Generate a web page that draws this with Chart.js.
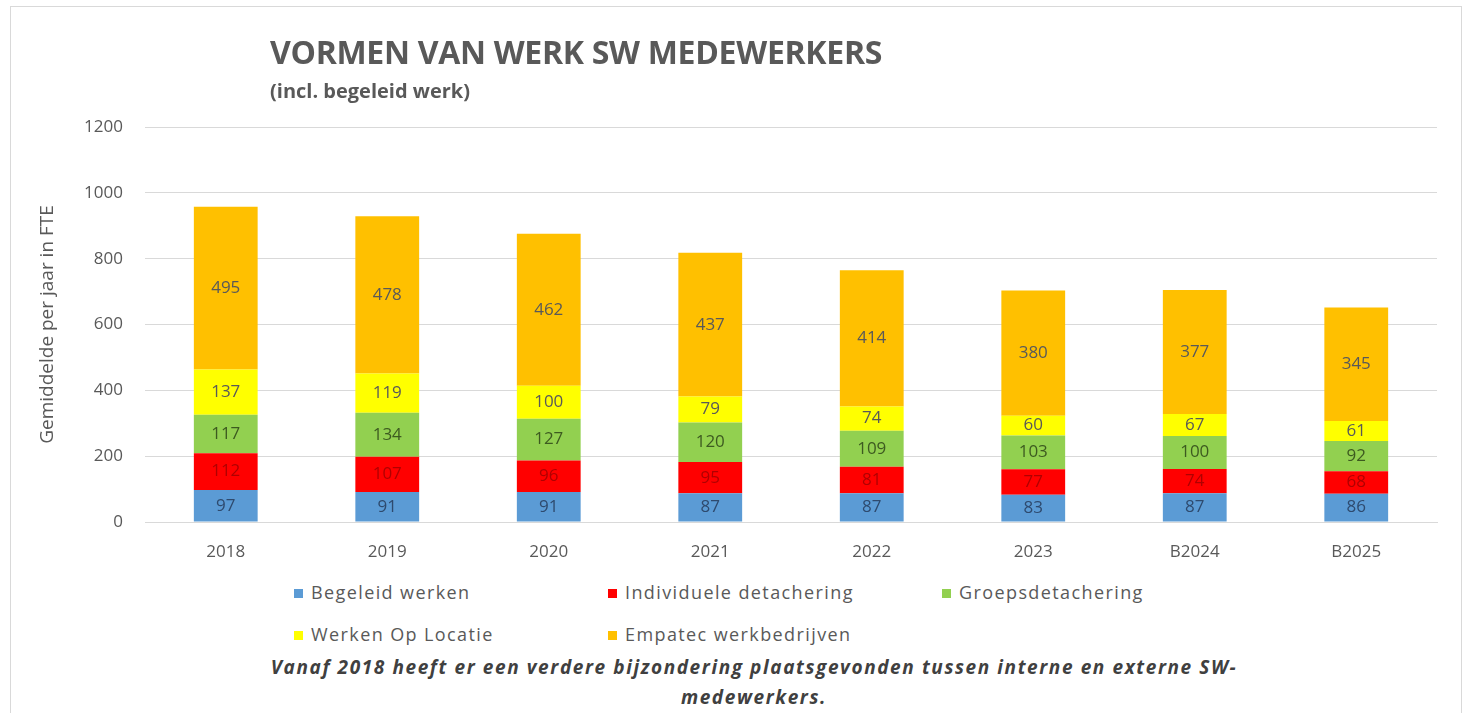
<!DOCTYPE html>
<html>
<head>
<meta charset="utf-8">
<script src="https://cdn.jsdelivr.net/npm/chart.js@4/dist/chart.umd.min.js"></script>
<style>
  body { margin: 0; background: #fff; font-family: "Open Sans", sans-serif; }
  #page { position: relative; width: 1473px; height: 713px; overflow: hidden; }
  #frame { position: absolute; left: 10px; top: 6px; width: 1450px; height: 712px; border: 1px solid #d9d9d9; }
  #chartBox { position: absolute; left: 0; top: 0; width: 1473px; height: 580px; }
  #title { position: absolute; left: 270px; top: 36px; font-size: 32px; line-height: 1; font-weight: bold; color: #595959; letter-spacing: -0.3px; }
  #subtitle { position: absolute; left: 270px; top: 81px; font-size: 20px; line-height: 1; font-weight: bold; color: #595959; }
  .leg { position: absolute; font-size: 18px; letter-spacing: 1.4px; color: #595959; white-space: nowrap; }
  .leg span { display: inline-block; width: 9px; height: 9px; margin-right: 8px; vertical-align: 1px; }
  #note { position: absolute; left: 204px; top: 652px; width: 1100px; text-align: center; font-size: 19px; letter-spacing: 1.6px; font-weight: bold; font-style: italic; color: #404040; line-height: 30px; }
</style>
</head>
<body>
<div id="page">
  <div id="frame"></div>
  <div id="chartBox"><canvas id="myChart"></canvas></div>
  <div id="title">VORMEN VAN WERK SW MEDEWERKERS</div>
  <div id="subtitle">(incl. begeleid werk)</div>
  <div id="legend"></div>
  <div id="note">Vanaf 2018 heeft er een verdere bijzondering plaatsgevonden tussen interne en externe SW-<br>medewerkers.</div>
</div>
<script>
const ctx = document.getElementById('myChart');

// data
var years = ['2018', '2019', '2020', '2021', '2022', '2023', 'B2024', 'B2025'];
var begeleid = [97, 91, 91, 87, 87, 83, 87, 86];
var individueel = [112, 107, 96, 95, 81, 77, 74, 68];
var groeps = [117, 134, 127, 120, 109, 103, 100, 92];
var werkenOpLocatie = [137, 119, 100, 79, 74, 60, 67, 61];
var empatec = [495, 478, 462, 437, 414, 380, 377, 345];
var yTicks = [0, 200, 400, 600, 800, 1000, 1200];

var seriesNames = ['Begeleid werken', 'Individuele detachering', 'Groepsdetachering', 'Werken Op Locatie', 'Empatec werkbedrijven'];
var seriesData = [begeleid, individueel, groeps, werkenOpLocatie, empatec];
var seriesColors = ['#5b9bd5', '#ff0000', '#92d050', '#ffff00', '#ffc000'];
var labelColors = ['#2e4a6e', '#b00000', '#3d5a20', '#595959', '#595959'];

// legend slots (two rows, three columns)
var legendPos = [[294, 580], [608, 580], [942, 580], [294, 622], [608, 622]];

var datasets = [];
for (var i = 0; i < seriesNames.length; i++) {
  datasets.push({
    label: seriesNames[i],
    data: seriesData[i],
    backgroundColor: seriesColors[i],
    borderWidth: 0,
    barPercentage: 0.79,
    categoryPercentage: 0.5
  });
}

// draw the value inside each segment
const segLabels = {
  id: 'segLabels',
  afterDatasetsDraw(chart) {
    const c = chart.ctx;
    c.save();
    c.font = '17px "Open Sans", sans-serif';
    c.textAlign = 'center';
    c.textBaseline = 'middle';
    chart.data.datasets.forEach(function (ds, di) {
      var meta = chart.getDatasetMeta(di);
      c.fillStyle = labelColors[di];
      meta.data.forEach(function (bar, j) {
        var yMid = (bar.y + bar.base) / 2;
        c.fillText(String(ds.data[j]), bar.x, yMid);
      });
    });
    c.restore();
  }
};

new Chart(ctx, {
  type: 'bar',
  data: { labels: years, datasets: datasets },
  options: {
    responsive: true,
    maintainAspectRatio: false,
    animation: false,
    layout: { padding: { left: 36, top: 127, right: 36, bottom: 0 } },
    plugins: {
      legend: { display: false },
      tooltip: { enabled: false }
    },
    scales: {
      x: {
        stacked: true,
        grid: { display: false },
        border: { color: '#d9d9d9' },
        ticks: { color: '#595959', font: { size: 17, family: 'Open Sans' }, padding: 12 },
        afterFit: function (scale) { scale.height = 58; }
      },
      y: {
        stacked: true,
        min: 0,
        max: 1200,
        afterBuildTicks: function (scale) { scale.ticks = yTicks.map(function (v) { return { value: v }; }); },
        grid: { color: '#d9d9d9', drawTicks: false },
        border: { display: false },
        ticks: {
          color: '#595959', font: { size: 17, family: 'Open Sans' }, padding: 22,
          callback: function (v) { return String(v); }
        },
        title: { display: true, text: 'Gemiddelde per jaar in FTE', color: '#595959', font: { size: 19, family: 'Open Sans' }, padding: 0 },
        afterFit: function (scale) { scale.width = 109; }
      }
    }
  },
  plugins: [segLabels]
});

// HTML legend built from the datasets
var legendHtml = '';
for (var k = 0; k < seriesNames.length; k++) {
  legendHtml += '<div class="leg" style="left:' + legendPos[k][0] + 'px;top:' + legendPos[k][1] + 'px"><span style="background:' + seriesColors[k] + '"></span>' + seriesNames[k] + '</div>';
}
document.getElementById('legend').innerHTML = legendHtml;
</script>
</body>
</html>
